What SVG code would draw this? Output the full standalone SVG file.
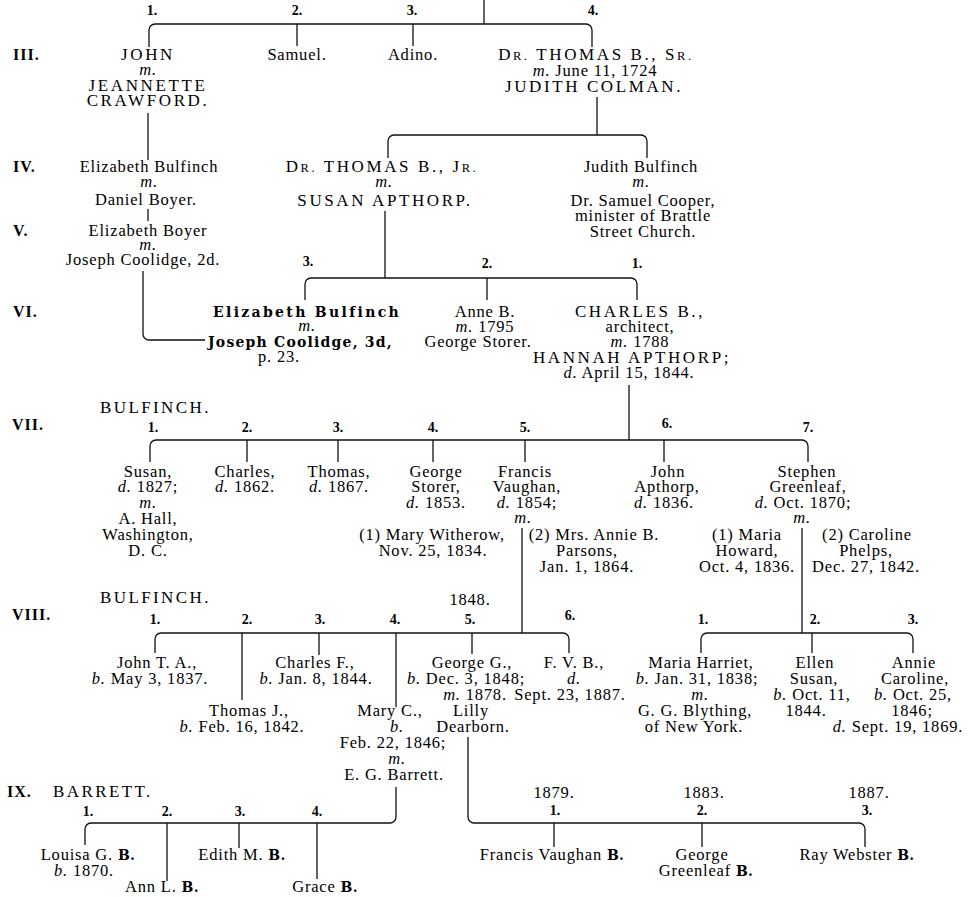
<svg xmlns="http://www.w3.org/2000/svg" width="969" height="897" viewBox="0 0 969 897">
<style>
text { font-family: "Liberation Serif", "Times New Roman", serif; font-size: 16.5px; letter-spacing: 0.8px; text-anchor: middle; fill: #000; }
.c { font-size: 17px; letter-spacing: 2.6px; }
.sc { font-size: 12.5px; }
.i { font-style: italic; }
.n { font-size: 14px; font-weight: bold; letter-spacing: 0px; }
.g { text-anchor: start; font-weight: bold; font-size: 16px; letter-spacing: 1px; }
.h { text-anchor: start; font-size: 17px; letter-spacing: 2.4px; }
.b { font-family: "DejaVu Serif", serif; font-weight: bold; font-size: 14px; letter-spacing: 0.3px; }
.ln { fill: none; stroke: #111; stroke-width: 1.3; }
</style>
<rect width="969" height="897" fill="#fff"/>

<g id="connectors" class="ln">
<path d="M484,0 V24"/>
<path d="M149,47 V30 A6,6 0 0 1 155,24 H586 A6,6 0 0 1 592,30 V47"/>
<path d="M297,24 V46 M413,24 V46"/>
<path d="M148,113 V160"/>
<path d="M597,97 V135"/>
<path d="M388,158 V141 A6,6 0 0 1 394,135 H641 A6,6 0 0 1 647,141 V158"/>
<path d="M148,209 V221"/>
<path d="M385,211 V278"/>
<path d="M305,300 V284 A6,6 0 0 1 311,278 H631 A6,6 0 0 1 637,284 V300"/>
<path d="M487,278 V300"/>
<path d="M143,271 V334 A6,6 0 0 0 149,340 H205"/>
<path d="M629,385 V440"/>
<path d="M150,462 V446 A6,6 0 0 1 156,440 H802 A6,6 0 0 1 808,446 V462"/>
<path d="M247,440 V462 M338,440 V462 M433,440 V462 M525,440 V462 M664,440 V462"/>
<path d="M522,528 V633 M802,528 V633"/>
<path d="M155,653 V639 A6,6 0 0 1 161,633 H563 A6,6 0 0 1 569,639 V653"/>
<path d="M242,633 V700 M319,633 V655 M396,633 V707 M472,633 V654"/>
<path d="M701,653 V639 A6,6 0 0 1 707,633 H907 A6,6 0 0 1 913,639 V653"/>
<path d="M812,633 V653"/>
<path d="M396,787 V817 A6,6 0 0 1 390,823 H91 A6,6 0 0 0 85,829 V845"/>
<path d="M167,823 V881 M239,823 V848 M317,823 V879"/>
<path d="M468,737 V817 A6,6 0 0 0 474,823 H859 A6,6 0 0 1 865,829 V847"/>
<path d="M554,823 V847 M702,823 V847"/>
</g>

<g id="generations">
<text class="g" x="13" y="60">III.</text>
<text class="g" x="13" y="172">IV.</text>
<text class="g" x="13" y="236">V.</text>
<text class="g" x="13" y="317">VI.</text>
<text class="g" x="12" y="430">VII.</text>
<text class="g" x="12" y="620">VIII.</text>
<text class="g" x="7" y="797">IX.</text>
<text class="h" x="100" y="413">BULFINCH.</text>
<text class="h" x="100" y="603">BULFINCH.</text>
<text class="h" x="53" y="797">BARRETT.</text>
</g>

<g id="numbers">
<text class="n" x="152" y="15">1.</text>
<text class="n" x="297" y="15">2.</text>
<text class="n" x="412" y="15">3.</text>
<text class="n" x="593" y="15">4.</text>
<text class="n" x="308" y="266">3.</text>
<text class="n" x="487" y="268">2.</text>
<text class="n" x="637" y="268">1.</text>
<text class="n" x="153" y="432">1.</text>
<text class="n" x="247" y="432">2.</text>
<text class="n" x="338" y="432">3.</text>
<text class="n" x="433" y="432">4.</text>
<text class="n" x="525" y="432">5.</text>
<text class="n" x="667" y="428">6.</text>
<text class="n" x="808" y="432">7.</text>
<text x="470" y="605">1848.</text>
<text class="n" x="155" y="624">1.</text>
<text class="n" x="247" y="624">2.</text>
<text class="n" x="320" y="624">3.</text>
<text class="n" x="395" y="624">4.</text>
<text class="n" x="470" y="624">5.</text>
<text class="n" x="570" y="620">6.</text>
<text class="n" x="703" y="624">1.</text>
<text class="n" x="815" y="624">2.</text>
<text class="n" x="913" y="624">3.</text>
<text class="n" x="88" y="816">1.</text>
<text class="n" x="167" y="816">2.</text>
<text class="n" x="240" y="816">3.</text>
<text class="n" x="317" y="816">4.</text>
<text x="554" y="798">1879.</text>
<text class="n" x="555" y="815">1.</text>
<text x="704" y="798">1883.</text>
<text class="n" x="702" y="815">2.</text>
<text x="869" y="798">1887.</text>
<text class="n" x="867" y="815">3.</text>
</g>

<g id="john">
<text class="c" x="148" y="60">JOHN</text>
<text class="i" x="148" y="75">m.</text>
<text class="c" x="148" y="91">JEANNETTE</text>
<text class="c" x="148" y="106">CRAWFORD.</text>
</g>
<g id="samuel"><text x="297" y="60">Samuel.</text></g>
<g id="adino"><text x="413" y="60">Adino.</text></g>
<g id="thomas-sr">
<text class="c" x="596" y="60">D<tspan class="sc">R.</tspan> THOMAS B., S<tspan class="sc">R.</tspan></text>
<text x="595" y="76"><tspan class="i">m.</tspan> June 11, 1724</text>
<text class="c" x="594" y="92">JUDITH COLMAN.</text>
</g>

<g id="elizabeth-bulfinch-iv">
<text x="149" y="172">Elizabeth Bulfinch</text>
<text class="i" x="149" y="187">m.</text>
<text x="146" y="205">Daniel Boyer.</text>
</g>
<g id="thomas-jr">
<text class="c" x="382" y="172">D<tspan class="sc">R.</tspan> THOMAS B., J<tspan class="sc">R.</tspan></text>
<text class="i" x="384" y="187">m.</text>
<text class="c" x="385" y="206">SUSAN APTHORP.</text>
</g>
<g id="judith-bulfinch">
<text x="641" y="172">Judith Bulfinch</text>
<text class="i" x="641" y="187">m.</text>
<text x="643" y="206">Dr. Samuel Cooper,</text>
<text x="643" y="221">minister of Brattle</text>
<text x="643" y="237">Street Church.</text>
</g>

<g id="elizabeth-boyer">
<text x="148" y="236">Elizabeth Boyer</text>
<text class="i" x="148" y="250">m.</text>
<text x="143" y="265">Joseph Coolidge, 2d.</text>
</g>

<g id="elizabeth-bulfinch-vi">
<text class="b" x="306" y="317" textLength="186" lengthAdjust="spacing">Elizabeth Bulfinch</text>
<text class="i" x="307" y="331">m.</text>
<text class="b" x="300" y="347" textLength="184" lengthAdjust="spacing">Joseph Coolidge, 3d,</text>
<text x="279" y="362">p. 23.</text>
</g>
<g id="anne-b">
<text x="485" y="317">Anne B.</text>
<text x="485" y="332"><tspan class="i">m.</tspan> 1795</text>
<text x="478" y="347">George Storer.</text>
</g>
<g id="charles-b">
<text class="c" x="640" y="317">CHARLES B.,</text>
<text x="640" y="332">architect,</text>
<text x="640" y="347"><tspan class="i">m.</tspan> 1788</text>
<text class="c" x="632" y="363">HANNAH APTHORP;</text>
<text x="629" y="378"><tspan class="i">d.</tspan> April 15, 1844.</text>
</g>

<g id="susan">
<text x="148" y="477">Susan,</text>
<text x="148" y="492"><tspan class="i">d.</tspan> 1827;</text>
<text class="i" x="148" y="508">m.</text>
<text x="148" y="524">A. Hall,</text>
<text x="148" y="540">Washington,</text>
<text x="148" y="556">D. C.</text>
</g>
<g id="charles"><text x="245" y="477">Charles,</text><text x="245" y="492"><tspan class="i">d.</tspan> 1862.</text></g>
<g id="thomas"><text x="339" y="477">Thomas,</text><text x="339" y="492"><tspan class="i">d.</tspan> 1867.</text></g>
<g id="george-storer"><text x="436" y="477">George</text><text x="436" y="492">Storer,</text><text x="436" y="508"><tspan class="i">d.</tspan> 1853.</text></g>
<g id="francis-vaughan">
<text x="525" y="477">Francis</text>
<text x="527" y="492">Vaughan,</text>
<text x="527" y="508"><tspan class="i">d.</tspan> 1854;</text>
<text class="i" x="523" y="523">m.</text>
</g>
<g id="mary-witherow"><text x="432" y="540">(1) Mary Witherow,</text><text x="433" y="556">Nov. 25, 1834.</text></g>
<g id="annie-parsons"><text x="594" y="540">(2) Mrs. Annie B.</text><text x="587" y="556">Parsons,</text><text x="587" y="572">Jan. 1, 1864.</text></g>
<g id="john-apthorp"><text x="668" y="477">John</text><text x="667" y="492">Apthorp,</text><text x="664" y="508"><tspan class="i">d.</tspan> 1836.</text></g>
<g id="stephen-greenleaf">
<text x="807" y="477">Stephen</text>
<text x="808" y="492">Greenleaf,</text>
<text x="803" y="508"><tspan class="i">d.</tspan> Oct. 1870;</text>
<text class="i" x="802" y="523">m.</text>
</g>
<g id="maria-howard"><text x="747" y="540">(1) Maria</text><text x="747" y="556">Howard,</text><text x="747" y="572">Oct. 4, 1836.</text></g>
<g id="caroline-phelps"><text x="867" y="540">(2) Caroline</text><text x="866" y="556">Phelps,</text><text x="866" y="572">Dec. 27, 1842.</text></g>

<g id="john-t-a"><text x="157" y="668">John T. A.,</text><text x="150" y="684"><tspan class="i">b.</tspan> May 3, 1837.</text></g>
<g id="thomas-j"><text x="249" y="716">Thomas J.,</text><text x="242" y="732"><tspan class="i">b.</tspan> Feb. 16, 1842.</text></g>
<g id="charles-f"><text x="315" y="668">Charles F.,</text><text x="316" y="684"><tspan class="i">b.</tspan> Jan. 8, 1844.</text></g>
<g id="mary-c">
<text x="390" y="716">Mary C.,</text>
<text class="i" x="397" y="732">b.</text>
<text x="393" y="748">Feb. 22, 1846;</text>
<text class="i" x="397" y="764">m.</text>
<text x="394" y="780">E. G. Barrett.</text>
</g>
<g id="george-g">
<text x="472" y="668">George G.,</text>
<text x="466" y="684"><tspan class="i">b.</tspan> Dec. 3, 1848;</text>
<text x="475" y="700"><tspan class="i">m.</tspan> 1878.</text>
<text x="471" y="716">Lilly</text>
<text x="473" y="732">Dearborn.</text>
</g>
<g id="f-v-b"><text x="574" y="668">F. V. B.,</text><text class="i" x="574" y="684">d.</text><text x="570" y="700">Sept. 23, 1887.</text></g>
<g id="maria-harriet">
<text x="701" y="668">Maria Harriet,</text>
<text x="697" y="684"><tspan class="i">b.</tspan> Jan. 31, 1838;</text>
<text class="i" x="700" y="700">m.</text>
<text x="695" y="716">G. G. Blything,</text>
<text x="694" y="732">of New York.</text>
</g>
<g id="ellen-susan"><text x="815" y="668">Ellen</text><text x="814" y="684">Susan,</text><text x="812" y="700"><tspan class="i">b.</tspan> Oct. 11,</text><text x="806" y="716">1844.</text></g>
<g id="annie-caroline">
<text x="914" y="668">Annie</text>
<text x="915" y="684">Caroline,</text>
<text x="913" y="700"><tspan class="i">b.</tspan> Oct. 25,</text>
<text x="912" y="716">1846;</text>
<text x="898" y="732"><tspan class="i">d.</tspan> Sept. 19, 1869.</text>
</g>

<g id="louisa"><text x="88" y="860">Louisa G. <tspan class="b">B.</tspan></text><text x="84" y="876"><tspan class="i">b.</tspan> 1870.</text></g>
<g id="ann"><text x="162" y="892">Ann L. <tspan class="b">B.</tspan></text></g>
<g id="edith"><text x="242" y="860">Edith M. <tspan class="b">B.</tspan></text></g>
<g id="grace"><text x="325" y="892">Grace <tspan class="b">B.</tspan></text></g>
<g id="francis-vaughan-b"><text x="552" y="860">Francis Vaughan <tspan class="b">B.</tspan></text></g>
<g id="george-greenleaf-b"><text x="702" y="860">George</text><text x="706" y="876">Greenleaf <tspan class="b">B.</tspan></text></g>
<g id="ray-webster-b"><text x="857" y="860">Ray Webster <tspan class="b">B.</tspan></text></g>
</svg>
